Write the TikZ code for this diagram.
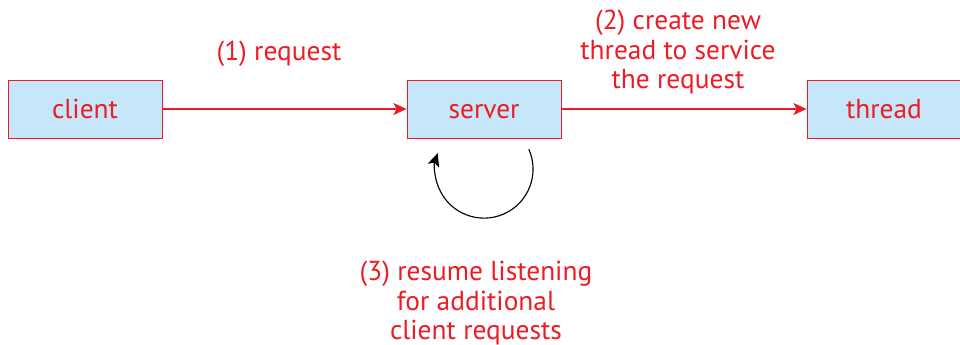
\documentclass[tikz,border=0pt]{standalone}
\usepackage{fontspec}
\setmainfont{PT Sans}
\usetikzlibrary{arrows.meta}
\definecolor{figred}{RGB}{237,28,36}
\definecolor{boxblue}{RGB}{198,231,249}
\tikzstyle{box}   = [rectangle, minimum width=3.85cm, minimum height=1.45cm,
                     text centered, draw=figred, fill=boxblue, line width=0.6pt, text=figred,
                     text height=17pt, text depth=3pt]
\tikzstyle{label} = [text=figred, align=center]
\tikzstyle{arrow} = [draw=figred, line width=0.9pt, -{Stealth[length=3.3mm, width=3mm, inset=0.8mm]}]
\tikzstyle{loop}  = [black, line width=0.8pt, -{Stealth[length=3.3mm, width=3mm, inset=0.8mm]}]

\begin{document}
\begin{tikzpicture}[every node/.style={font=\fontsize{19.5}{20.8}\selectfont}]
  \useasboundingbox (0,0) rectangle (24,8.6);

  % Boxes
  \node (client) [box] at (2.125, 5.875) {client};
  \node (server) [box] at (12.1,  5.875) {server};
  \node (thread) [box] at (22.1,  5.875) {thread};

  % Labels
  \node (l1) [label] at (6.975, 7.25)  {(1) request};
  \node (l2) [label] at (16.95, 7.3)   {(2) create new\\thread to service\\the request};
  \node (l3) [label] at (11.9,  1.02)  {(3) resume listening\\for additional\\client requests};

  % Client -> Server
  \draw[arrow] (client) -- (server);
  % Server -> Thread
  \draw[arrow] (server) -- (thread);
  % Server loops back
  \coordinate (loopstart) at (13.22, 4.87);
  \draw[loop] (loopstart) arc[start angle=24, end angle=-199, radius=1.225cm];

\end{tikzpicture}
\end{document}
